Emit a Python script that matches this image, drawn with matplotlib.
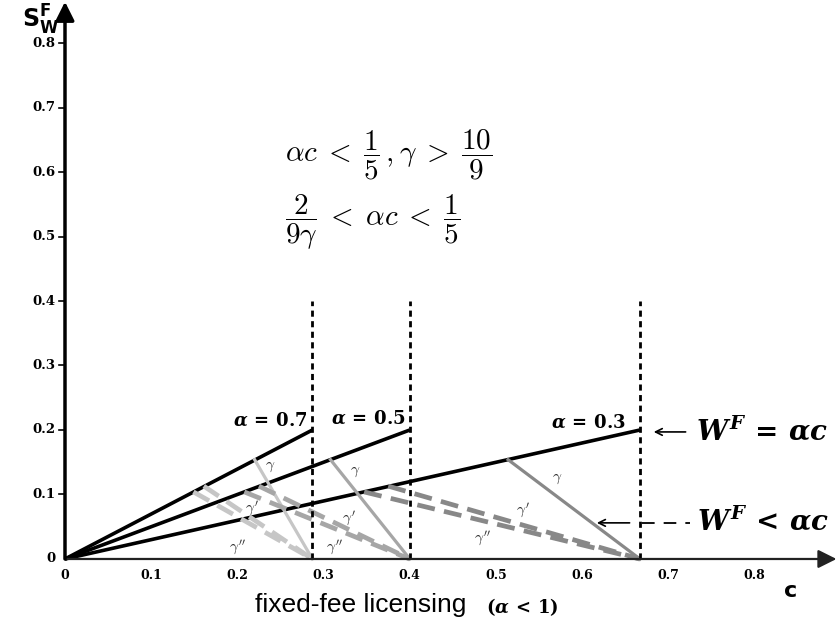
import matplotlib
matplotlib.use('Agg')
import matplotlib.pyplot as plt

# data
alphas = [0.7, 0.5, 0.3]
alpha_labels = [r'$\alpha\,=\,0.7$', r'$\alpha\,=\,0.5$', r'$\alpha\,=\,0.3$']
c_max = [0.287, 0.40, 0.667]        # c where W^F = alpha*c reaches 0.2
w_max = [0.2, 0.2, 0.2]
gamma_c = [0.220, 0.308, 0.514]     # start of gamma lines on W^F = alpha c
gamma_w = [0.154, 0.154, 0.154]
gamma1_c = [0.161, 0.225, 0.375]    # gamma'
gamma1_w = [0.113, 0.113, 0.113]
gamma2_c = [0.149, 0.208, 0.347]    # gamma''
gamma2_w = [0.104, 0.104, 0.104]
vline_top = 0.40

xticks = [0, 0.1, 0.2, 0.3, 0.4, 0.5, 0.6, 0.7, 0.8]
xtick_labels = ['0', '0.1', '0.2', '0.3', '0.4', '0.5', '0.6', '0.7', '0.8']
yticks = [0, 0.1, 0.2, 0.3, 0.4, 0.5, 0.6, 0.7, 0.8]
ytick_labels = ['0', '0.1', '0.2', '0.3', '0.4', '0.5', '0.6', '0.7', '0.8']

# label positions for gamma, gamma', gamma''
g_lab = [(0.238, 0.143), (0.337, 0.135), (0.571, 0.125)]
g1_lab = [(0.217, 0.079), (0.329, 0.064), (0.531, 0.076)]
g2_lab = [(0.200, 0.019), (0.313, 0.019), (0.484, 0.033)]

colors = ['#c6c6c6', '#a6a6a6', '#888888']

plt.rcParams['mathtext.fontset'] = 'cm'
plt.rcParams['mathtext.it'] = 'DejaVu Serif:italic:bold'
plt.rcParams['mathtext.rm'] = 'DejaVu Serif:bold'
plt.rcParams['mathtext.bf'] = 'DejaVu Serif:bold'

fig = plt.figure(figsize=(8.37, 6.24), dpi=100)
ax = fig.add_axes([0, 0, 1, 1])
ax.set_xlim(-0.0754, 0.8956)
ax.set_ylim(-0.1008, 0.8667)
ax.axis('off')

# axes with arrows
ax.annotate('', xy=(0.895, 0), xytext=(0, 0),
            arrowprops=dict(arrowstyle='-|>', lw=1.6, color='#222222',
                            mutation_scale=28, shrinkA=0, shrinkB=0))
ax.annotate('', xy=(0, 0.864), xytext=(0, 0),
            arrowprops=dict(arrowstyle='-|>', lw=2.5, color='black',
                            mutation_scale=28, shrinkA=0, shrinkB=0))

for t, lab in zip(xticks, xtick_labels):
    ax.text(t, -0.025, lab, ha='center', va='center', fontsize=9,
            family='DejaVu Serif', weight='bold')
for t, lab in zip(yticks, ytick_labels):
    ax.text(-0.011, t, lab, ha='right', va='center', fontsize=9.5,
            family='DejaVu Serif', weight='bold')
    if t > 0:
        ax.plot([-0.007, 0], [t, t], color='black', lw=1.2)

# W^F = alpha c lines
for a, cm, wm in zip(alphas, c_max, w_max):
    ax.plot([0, cm], [0, wm], color='black', lw=2.6, solid_capstyle='butt')

# gamma lines
for i in range(3):
    col = colors[i]
    ax.plot([gamma_c[i], c_max[i]], [gamma_w[i], 0], color=col, lw=2.3)
    ax.plot([gamma1_c[i], c_max[i]], [gamma1_w[i], 0], color=col, lw=3.4,
            dashes=(3.8, 2.0), dash_capstyle='butt')
    ax.plot([gamma2_c[i], c_max[i]], [gamma2_w[i], 0], color=col, lw=3.4,
            dashes=(3.8, 2.0), dash_capstyle='butt')
    ax.text(*g_lab[i], r'$\gamma$', fontsize=11, color='#333333',
            ha='center', va='center', math_fontfamily='cm')
    ax.text(*g1_lab[i], r"$\gamma'$", fontsize=11, color='#333333',
            ha='center', va='center', math_fontfamily='cm')
    ax.text(*g2_lab[i], r"$\gamma''$", fontsize=11, color='#333333',
            ha='center', va='center', math_fontfamily='cm')

# vertical dashed lines
for cm in c_max:
    ax.plot([cm, cm], [0, vline_top], color='black', lw=2.0,
            dashes=(2.2, 1.6), dash_capstyle='butt')

# alpha labels
label_x = [0.281, 0.396, 0.651]
label_y = [0.215, 0.217, 0.211]
for lx, ly, lab in zip(label_x, label_y, alpha_labels):
    ax.text(lx, ly, lab, ha='right', va='center', fontsize=13,
            math_fontfamily='custom')

# right side annotations
ax.annotate('', xy=(0.683, 0.197), xytext=(0.720, 0.197),
            arrowprops=dict(arrowstyle='->', lw=1.2, color='black',
                            mutation_scale=12, shrinkA=0, shrinkB=0))
ax.text(0.732, 0.197, r'$W^F\, =\, \alpha c$', ha='left', va='center',
        fontsize=20, math_fontfamily='custom')
ax.annotate('', xy=(0.617, 0.056), xytext=(0.655, 0.056),
            arrowprops=dict(arrowstyle='->', lw=1.2, color='black',
                            mutation_scale=12, shrinkA=0, shrinkB=0))
ax.plot([0.669, 0.725], [0.056, 0.056], color='black', lw=1.3, dashes=(7, 5))
ax.text(0.733, 0.058, r'$W^F\, <\, \alpha c$', ha='left', va='center',
        fontsize=20, math_fontfamily='custom')

# conditions
ax.text(0.375, 0.626,
        r'$\alpha c\; <\; \dfrac{1}{5}\,,\gamma\; >\; \dfrac{10}{9}$',
        ha='center', va='center', fontsize=21, math_fontfamily='cm')
ax.text(0.357, 0.522, r'$\dfrac{2}{9\gamma}\; <\; \alpha c\; <\; \dfrac{1}{5}$',
        ha='center', va='center', fontsize=21, math_fontfamily='cm')

# axis labels
ax.text(-0.028, 0.862, r'$\mathbf{S}_{\mathbf{W}}^{\mathbf{F}}$', ha='center',
        va='top', fontsize=17, math_fontfamily='dejavusans')
ax.text(0.842, -0.05, 'c', ha='center', va='center', fontsize=16,
        family='DejaVu Sans', weight='bold')
ax.text(0.343, -0.071, 'fixed-fee licensing', ha='center', va='center',
        fontsize=19, family='Liberation Sans')
ax.text(0.531, -0.074, r'$(\alpha\, <\, 1)$', ha='center', va='center',
        fontsize=13, math_fontfamily='custom')

fig.savefig('out.png', dpi=100)
